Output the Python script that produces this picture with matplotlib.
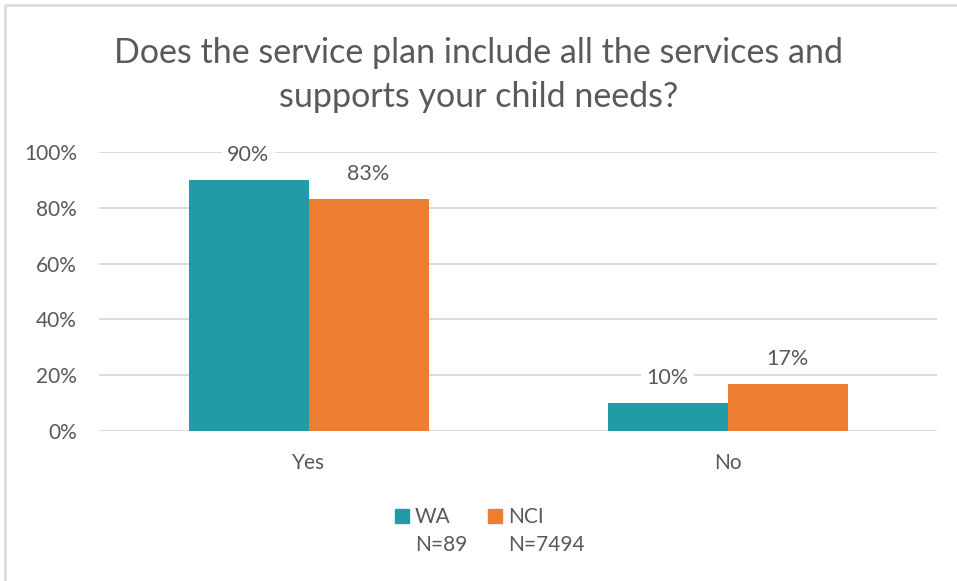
import matplotlib.pyplot as plt
import numpy as np
from matplotlib.patches import Patch, Rectangle
from matplotlib.ticker import PercentFormatter

# data
categories = ["Yes", "No"]
series_names = ["WA", "NCI"]
series_n = ["N=89", "N=7494"]
wa_values = [0.90, 0.10]
nci_values = [0.83, 0.17]
title = "Does the service plan include all the services and\nsupports your child needs?"

TEAL = "#219CA6"
ORANGE = "#ED7D31"
TEXT = "#595959"
GRID = "#D9D9D9"

plt.rcParams["font.family"] = ["Lato", "DejaVu Sans"]

fig = plt.figure(figsize=(9.57, 5.81), dpi=100)
ax = fig.add_axes([99 / 957, 1 - 431 / 581, (937 - 99) / 957, (431 - 152) / 581])

x = np.arange(len(categories))
width = 120 / 419
bars_wa = ax.bar(x - width / 2, wa_values, width, color=TEAL, zorder=2)
bars_nci = ax.bar(x + width / 2, nci_values, width, color=ORANGE, zorder=2)

for bars in (bars_wa, bars_nci):
    for b in bars:
        ax.annotate(f"{b.get_height():.0%}",
                    (b.get_x() + b.get_width() / 2, b.get_height()),
                    xytext=(0, 18), textcoords="offset points",
                    ha="center", va="center", fontsize=15.5, color=TEXT,
                    bbox=dict(boxstyle="square,pad=0.25", fc="white", ec="none"),
                    zorder=3)

ax.set_xlim(-0.5, len(categories) - 0.5)
ax.set_ylim(0, 1)
ax.set_yticks(np.linspace(0, 1, 6))
ax.yaxis.set_major_formatter(PercentFormatter(1.0, decimals=0))
ax.set_xticks(x)
ax.set_xticklabels(categories)
ax.tick_params(axis="both", length=0, labelsize=15, labelcolor=TEXT)
ax.tick_params(axis="x", pad=16)
ax.tick_params(axis="y", pad=16)
ax.grid(axis="y", color=GRID, linewidth=1.3, zorder=0)
for s in ax.spines.values():
    s.set_visible(False)

fig.text(0.5, 1 - 75 / 581, title, ha="center", va="center",
         fontsize=24.5, color=TEXT, linespacing=1.45)

# legend: column-wise, names on the first row, sample sizes below
handles = [Patch(color=TEAL), Patch(visible=False),
           Patch(color=ORANGE), Patch(visible=False)]
labels = [series_names[0], series_n[0], series_names[1], series_n[1]]
leg = fig.legend(handles, labels, ncol=2, loc="center",
                 bbox_to_anchor=(490 / 957, 1 - 531 / 581), frameon=False,
                 fontsize=15, labelcolor=TEXT, handlelength=0.65,
                 handleheight=0.65, handletextpad=0.3, columnspacing=1.0,
                 labelspacing=0.35)

# chart area border (left and top edges visible in the reference)
fig.add_artist(Rectangle((5 / 957, -0.1), 1.2, 1 - 5 / 581 + 0.1,
                         transform=fig.transFigure, fill=False,
                         ec=GRID, lw=1.8))

fig.savefig("out.png", dpi=100)
